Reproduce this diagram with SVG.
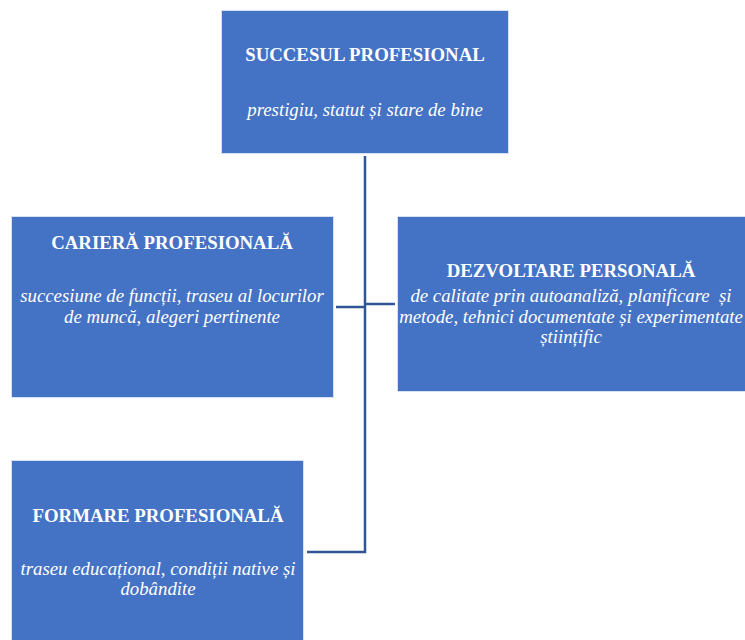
<svg xmlns="http://www.w3.org/2000/svg" width="745" height="640" viewBox="0 0 745 640">
<style>
.box{fill:#4472C4;stroke:#D6E0F2;stroke-width:1}
.t{font-family:'Liberation Serif','Times New Roman',Times,serif;fill:#fff;text-anchor:middle}
.b{font-weight:bold;font-size:18.8px}
.i{font-style:italic;font-size:18.8px}
.c{stroke:#2F5597;stroke-width:2.5;fill:none}
</style>
<rect width="745" height="640" fill="#fff"/>
<g id="connectors">
<path class="c" d="M365 156 V552 H307"/>
<path class="c" d="M336 307 H365"/>
<path class="c" d="M365 304 H395"/>
</g>
<g id="succesul">
<rect class="box" x="221.5" y="10.5" width="287" height="143"/>
<text class="t b" x="365" y="61">SUCCESUL PROFESIONAL</text>
<text class="t i" x="365" y="116">prestigiu, statut și stare de bine</text>
</g>
<g id="cariera">
<rect class="box" x="11.5" y="216.5" width="322" height="181"/>
<text class="t b" x="172" y="249">CARIERĂ PROFESIONALĂ</text>
<text class="t i" x="172" y="302">succesiune de funcții, traseu al locurilor</text>
<text class="t i" x="172" y="323">de muncă, alegeri pertinente</text>
</g>
<g id="dezvoltare">
<rect class="box" x="397.5" y="216.5" width="350" height="175"/>
<text class="t b" x="571" y="277">DEZVOLTARE PERSONALĂ</text>
<text class="t i" x="571" y="302" xml:space="preserve" style="white-space:pre">de calitate prin autoanaliză, planificare  și</text>
<text class="t i" x="571" y="323">metode, tehnici documentate și experimentate</text>
<text class="t i" x="571" y="343">științific</text>
</g>
<g id="formare">
<rect class="box" x="11.5" y="460.5" width="292" height="182"/>
<text class="t b" x="158" y="522">FORMARE PROFESIONALĂ</text>
<text class="t i" x="158" y="575">traseu educațional, condiții native și</text>
<text class="t i" x="158" y="595">dobândite</text>
</g>
</svg>
